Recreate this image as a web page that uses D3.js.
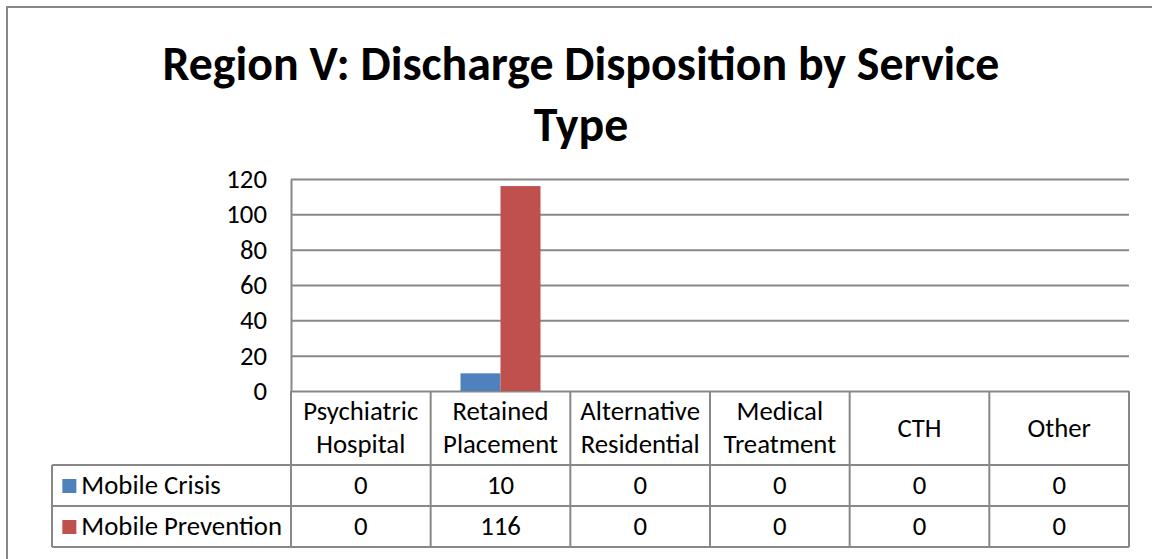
<!DOCTYPE html>
<html>
<head>
<script src="https://d3js.org/d3.v7.min.js"></script>
<style>
  html, body { margin: 0; padding: 0; background: #fff; }
  svg { display: block; }
  text { font-family: Carlito, Calibri, Lato, sans-serif; fill: #000; }
</style>
</head>
<body>
<div id="chart"></div>
<script>
// chart data
var title = ["Region V: Discharge Disposition by Service", "Type"];
var categories = ["Psychiatric Hospital", "Retained Placement", "Alternative Residential", "Medical Treatment", "CTH", "Other"];
var categoryLines = [["Psychiatric", "Hospital"], ["Retained", "Placement"], ["Alternative", "Residential"], ["Medical", "Treatment"], ["CTH"], ["Other"]];
var seriesNames = ["Mobile Crisis", "Mobile Prevention"];
var seriesColors = ["#4f81bd", "#c0504d"];
var mobileCrisis = [0, 10, 0, 0, 0, 0];
var mobilePrevention = [0, 116, 0, 0, 0, 0];
var yTicks = [0, 20, 40, 60, 80, 100, 120];

var W = 1152, H = 559;
var gray = "#888888";
var plot = {left: 291, right: 1129, top: 179, bottom: 391};
var rowH = [74, 41, 41];

var svg = d3.select("#chart").append("svg")
    .attr("width", W).attr("height", H);

// outer frame (runs off the right and bottom edges)
svg.append("rect")
    .attr("x", 7).attr("y", 7)
    .attr("width", W).attr("height", H)
    .attr("fill", "none").attr("stroke", gray).attr("stroke-width", 2);

// title, sized to the width seen in the picture
var tg = svg.append("g").attr("font-weight", "bold");
var t1 = tg.append("text").attr("x", 581).attr("y", 80)
    .attr("text-anchor", "middle").attr("font-size", 40).text(title[0]);
var fs = 40 * 837 / t1.node().getComputedTextLength();
t1.attr("font-size", fs);
tg.append("text").attr("x", 581).attr("y", 141)
    .attr("text-anchor", "middle").attr("font-size", fs).text(title[1]);

// body font size fitted so "Psychiatric" is about 115px wide
var probe = svg.append("text").attr("font-size", 24).text("Psychiatric");
var bfs = 24 * 115 / probe.node().getComputedTextLength();
probe.remove();

var x = d3.scaleBand().domain(categories).range([plot.left, plot.right]);
var y = d3.scaleLinear().domain([0, 120]).range([plot.bottom, plot.top]);
var xs = d3.scaleBand().domain(seriesNames).range([0, 80]);

// gridlines
svg.append("g")
    .attr("transform", "translate(" + plot.left + ",0)")
    .call(d3.axisLeft(y).tickValues(yTicks).tickSize(-(plot.right - plot.left)).tickFormat(""))
    .call(function(g) {
        g.select(".domain").remove();
        g.selectAll("line").attr("stroke", gray).attr("stroke-width", 2);
    });

// y axis
svg.append("g")
    .attr("transform", "translate(" + plot.left + ",0)")
    .call(d3.axisLeft(y).tickValues(yTicks).tickSize(0).tickPadding(24))
    .call(function(g) {
        g.select(".domain").attr("stroke", gray).attr("stroke-width", 2);
        g.selectAll("text").attr("font-size", bfs)
            .style("font-family", "Carlito, Calibri, Lato, sans-serif").attr("fill", "#000");
    });

// bars
var series = [mobileCrisis, mobilePrevention];
series.forEach(function(vals, si) {
    svg.append("g").selectAll("rect")
        .data(vals)
        .enter().append("rect")
        .attr("x", function(d, i) { return x(categories[i]) + x.bandwidth() / 2 - 40 + xs(seriesNames[si]); })
        .attr("width", xs.bandwidth())
        .attr("y", function(d) { return y(d); })
        .attr("height", function(d) { return y(0) - y(d); })
        .attr("fill", seriesColors[si]);
});

// data table
var tableLeft = 52;
var y0 = plot.bottom, y1 = y0 + rowH[0], y2 = y1 + rowH[1], y3 = y2 + rowH[2];
var tb = svg.append("g").attr("stroke", gray).attr("stroke-width", 2);
categories.forEach(function(c) {
    tb.append("line").attr("x1", x(c)).attr("x2", x(c)).attr("y1", y0).attr("y2", y3);
});
tb.append("line").attr("x1", plot.right).attr("x2", plot.right).attr("y1", y0).attr("y2", y3);
tb.append("line").attr("x1", tableLeft).attr("x2", tableLeft).attr("y1", y1).attr("y2", y3);
[y1, y2, y3].forEach(function(yy) {
    tb.append("line").attr("x1", tableLeft).attr("x2", plot.right).attr("y1", yy).attr("y2", yy);
});

// header labels
var hdr = svg.append("g").attr("font-size", bfs).attr("text-anchor", "middle");
categoryLines.forEach(function(lines, i) {
    var cx = x(categories[i]) + x.bandwidth() / 2;
    var base = lines.length === 2 ? [420, 453] : [437];
    lines.forEach(function(l, j) {
        hdr.append("text").attr("x", cx).attr("y", base[j]).text(l);
    });
});

// value rows
var rowBase = [494, 535];
series.forEach(function(vals, si) {
    svg.append("g").attr("font-size", bfs).attr("text-anchor", "middle")
        .selectAll("text").data(vals).enter().append("text")
        .attr("x", function(d, i) { return x(categories[i]) + x.bandwidth() / 2; })
        .attr("y", rowBase[si])
        .text(function(d) { return d; });
});

// legend keys in the row headers
var textRight = 282;
var probe2 = svg.append("text").attr("font-size", bfs).text(seriesNames[1]);
var textStart = textRight - probe2.node().getComputedTextLength();
probe2.remove();
seriesNames.forEach(function(n, si) {
    svg.append("rect")
        .attr("x", textStart - 19).attr("y", rowBase[si] - 15)
        .attr("width", 14).attr("height", 14)
        .attr("fill", seriesColors[si]);
    svg.append("text").attr("font-size", bfs)
        .attr("x", textStart).attr("y", rowBase[si]).text(n);
});
</script>
</body>
</html>
